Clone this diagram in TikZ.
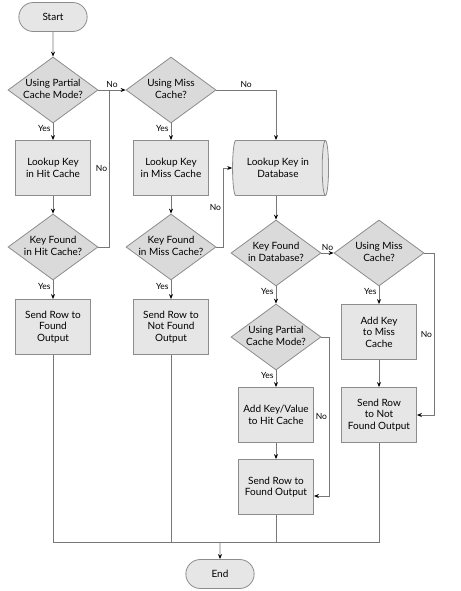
\documentclass[tikz,border=0pt]{standalone}
\usepackage{fontspec}
\setmainfont{Lato}
\definecolor{boxfill}{HTML}{E6E6E6}
\definecolor{decfill}{HTML}{DADADA}
\definecolor{edge}{HTML}{8C8C8C}
\definecolor{wire}{HTML}{777777}
\usepackage{tikz}
\usetikzlibrary{arrows.meta,shapes.geometric,shapes.misc,positioning,calc}
\newcommand{\dtext}[1]{\makebox[0pt]{\begin{tabular}{@{}c@{}}#1\end{tabular}}}
\tikzset{
  term_box/.style={rounded rectangle,draw=edge,fill=boxfill,line width=0.8pt,
    minimum width=75pt,minimum height=29pt,font=\fontsize{10}{11.5}\selectfont},
  proc_box/.style={rectangle,draw=edge,fill=boxfill,line width=0.8pt,
    minimum width=75pt,minimum height=55pt,align=center,font=\fontsize{10}{11.5}\selectfont},
  dec_box/.style={diamond,draw=edge,fill=decfill,line width=0.8pt,inner sep=0pt,
    minimum width=90pt,minimum height=66pt,font=\fontsize{10}{11.5}\selectfont},
  db_box/.style={cylinder,shape border rotate=0,draw=edge,fill=boxfill,line width=0.8pt,aspect=0.25,
    minimum width=55pt,minimum height=96pt,align=center,font=\fontsize{10}{11.5}\selectfont},
  yn/.style={font=\fontsize{8.5}{10}\selectfont,inner sep=2pt},
  line/.style={draw=wire,line width=0.8pt},
  arr/.style={-{Stealth[length=5pt,width=4pt,color=black]},draw=wire,line width=0.8pt},
}
\begin{document}
\begin{tikzpicture}[on grid,node distance=78pt]
  \useasboundingbox (-53pt,17pt) rectangle (407pt,-574pt);
  % left column: hit cache
  \node[term_box] (start) at (0,0) {Start};
  \node[dec_box,below=73pt of start] (partial1) {\dtext{Using Partial\\Cache Mode?}};
  \node[proc_box,below=of partial1] (hitlook) {Lookup Key\\in Hit Cache};
  \node[dec_box,below=79pt of hitlook] (hitfound) {\dtext{Key Found\\in Hit Cache?}};
  \node[proc_box,below=80pt of hitfound] (found1) {Send Row to\\Found\\Output};

  % second column: miss cache
  \node[dec_box,right=118pt of partial1] (miss1) {\dtext{Using Miss\\Cache?}};
  \node[proc_box,below=of miss1] (misslook) {Lookup Key\\in Miss Cache};
  \node[dec_box,below=79pt of misslook] (missfound) {\dtext{Key Found\\in Miss Cache?}};
  \node[proc_box,below=80pt of missfound] (notfound1) {Send Row to\\Not Found\\Output};

  % database column
  \node[db_box,right=107pt of misslook] (dblook) {Lookup Key in\\Database};
  \node[dec_box,below=85pt of dblook,xshift=-2pt] (dbfound) {\dtext{Key Found\\in Database?}};
  \node[dec_box,below=84pt of dbfound] (partial2) {\dtext{Using Partial\\Cache Mode?}};
  \node[proc_box,below=of partial2] (addkv) {Add Key/Value\\to Hit Cache};
  \node[proc_box,below=72pt of addkv] (found2) {Send Row to\\Found Output};

  \node[dec_box,right=103pt of dbfound] (miss2) {\dtext{Using Miss\\Cache?}};
  \node[proc_box,below=79pt of miss2] (addmiss) {Add Key\\to Miss\\Cache};
  \node[proc_box,below=83pt of addmiss] (notfound2) {Send Row\\to Not\\Found Output};

  \node[term_box,below right=557pt and 167pt of start] (end) {End};
  \coordinate[above=32pt of end] (bus);
  \coordinate (nojoin) at ($(partial1.east)!0.41!(miss1.west)$);

  \draw[arr] (start) -- (partial1);
  \draw[arr] (partial1) -- node[yn,left,pos=0.3]{Yes} (hitlook);
  \draw[arr] (hitlook) -- (hitfound);
  \draw[arr] (hitfound) -- node[yn,left,pos=0.3]{Yes} (found1);
  \draw[arr] (partial1) -- node[yn,above]{No} (miss1);
  \draw[line] (hitfound.east) -| node[yn,left,pos=0.75]{No} (nojoin);

  \draw[arr] (miss1) -- node[yn,left,pos=0.3]{Yes} (misslook);
  \draw[arr] (misslook) -- (missfound);
  \draw[arr] (missfound) -- node[yn,left,pos=0.3]{Yes} (notfound1);
  \draw[arr] (miss1.east) -| node[yn,above,pos=0.25]{No} (dbfound.north |- dblook.north);
  \draw[arr] (missfound.east) -- ++(7pt,0) |- node[yn,left,pos=0.25]{No} (dblook.west);

  \draw[arr] (dbfound.north |- dblook.south) -- (dbfound);
  \draw[arr] (dbfound) -- node[yn,above]{No} (miss2);
  \draw[arr] (dbfound) -- node[yn,left,pos=0.3]{Yes} (partial2);
  \draw[arr] (partial2) -- node[yn,left,pos=0.3]{Yes} (addkv);
  \draw[arr] (addkv) -- (found2);
  \draw[arr] (partial2.east) -- ++(8pt,0) |- node[yn,left,pos=0.25]{No} ([yshift=-9pt]found2.east);

  \draw[arr] (miss2) -- node[yn,left,pos=0.3]{Yes} (addmiss);
  \draw[arr] (addmiss) -- (notfound2);
  \draw[arr] (miss2.east) -- ++(10pt,0) |- node[yn,left,pos=0.25]{No} (notfound2.east);

  % everything ends in one bus
  \draw[line] (found1.south) |- (notfound2.south |- bus) -- (notfound2.south);
  \draw[line] (notfound1.south) -- (notfound1.south |- bus);
  \draw[line] (found2.south) -- (found2.south |- bus);
  \draw[arr] (bus) -- (end);
\end{tikzpicture}
\end{document}
